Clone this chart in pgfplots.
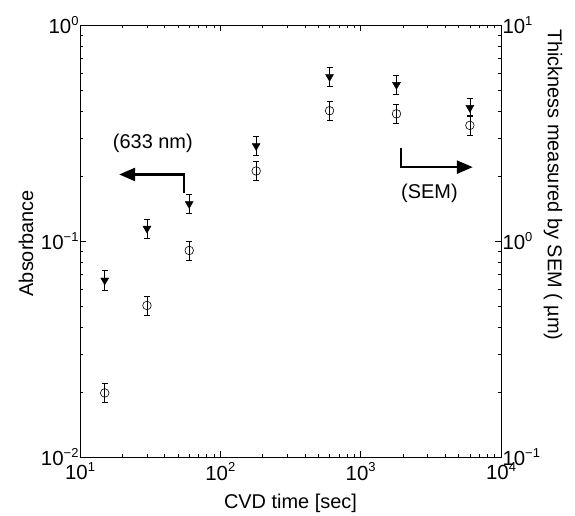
\documentclass[border=0pt]{standalone}
\usepackage{fontspec}
\setmainfont{Liberation Sans}
\usepackage{pgfplots}
\pgfplotsset{compat=1.18}
\usetikzlibrary{arrows.meta}

% 10 with a raised exponent, all in the text font
\newcommand{\ee}[1]{\fontsize{20.5}{22}\selectfont 10\raisebox{8.5bp}{\fontsize{13}{14}\selectfont #1}}

\begin{document}
\begin{tikzpicture}

\begin{axis}[name=ax,
  width=421bp, height=432bp, scale only axis,
  xmode=log, ymode=log, xmin=10, xmax=10000,
  ymin=0.01, ymax=1,
  tick style={line width=0.6bp, black},
  major tick length=6bp, minor tick length=3.5bp,
  axis line style={line width=0.8bp},
  xticklabel style={yshift=-2bp},
  yticklabel style={xshift=2bp},
  ytick={0.01,0.1,1}, yticklabels={\ee{−2},\ee{−1},\ee{0}},
  xtick={10,100,1000,10000}, xticklabels={\ee{1},\ee{2},\ee{3},\ee{4}},
  ytick pos=left, xtick pos=both,
  xlabel={CVD time [sec]}, ylabel={Absorbance},
  xlabel style={font=\fontsize{20}{24}\selectfont, at={(axis description cs:0.5,-0.1065)}, anchor=center},
  ylabel style={font=\fontsize{20}{24}\selectfont, at={(axis description cs:-0.128,0.495)}, anchor=center},
]

% absorbance at 633 nm
\addplot [only marks, mark=triangle*, mark size=4.6bp,
  mark options={rotate=180, fill=black, draw=black},
  error bars/.cd, y dir=both, y explicit,
  error bar style={line width=0.6bp, black},
  error mark options={line width=0.6bp, black, mark size=3bp, rotate=90}]
coordinates {
(15,   0.0658) += (0,0.0071) -= (0,0.0065)
(30,   0.1143) += (0,0.0121) -= (0,0.0111)
(60,   0.1486) += (0,0.0159) -= (0,0.0143)
(180,  0.276)  += (0,0.029)  -= (0,0.026)
(600,  0.576)  += (0,0.061)  -= (0,0.054)
(1800, 0.529)  += (0,0.056)  -= (0,0.051)
(6000, 0.414)  += (0,0.042)  -= (0,0.038)
};

\draw [line width=2.5bp, -{Triangle[length=16bp,width=13bp]}]
  (rel axis cs:0.247,0.611) -- (rel axis cs:0.247,0.654) -- (rel axis cs:0.093,0.654);
\node [font=\fontsize{20}{24}\selectfont] at (rel axis cs:0.173,0.727) {(633 nm)};

\draw [line width=2.5bp, -{Triangle[length=16bp,width=13bp]}]
  (rel axis cs:0.762,0.716) -- (rel axis cs:0.762,0.671) -- (rel axis cs:0.933,0.671);
\node [font=\fontsize{20}{24}\selectfont] at (rel axis cs:0.830,0.610) {(SEM)};
\end{axis}

\begin{axis}[
  width=421bp, height=432bp, scale only axis,
  xmode=log, ymode=log, xmin=10, xmax=10000,
  ymin=0.1, ymax=10,
  axis y line*=right, axis x line=none,
  tick style={line width=0.6bp, black},
  major tick length=6bp, minor tick length=3.5bp,
  axis line style={line width=0.8bp},
  yticklabel style={xshift=-2bp},
  ytick={0.1,1,10}, yticklabels={\ee{−1},\ee{0},\ee{1}},
  ylabel={Thickness measured by SEM ( µm)},
  ylabel style={font=\fontsize{20}{24}\selectfont, at={(axis description cs:1.1235,0.63)}, anchor=center, rotate=180},
]

% thickness by SEM
\addplot [only marks, mark=o, mark size=4.3bp,
  mark options={draw=black, line width=0.6bp},
  error bars/.cd, y dir=both, y explicit,
  error bar style={line width=0.6bp, black},
  error mark options={line width=0.6bp, black, mark size=3bp, rotate=90}]
coordinates {
(15,   0.198) += (0,0.021) -= (0,0.019)
(30,   0.503) += (0,0.053) -= (0,0.049)
(60,   0.904) += (0,0.096) -= (0,0.087)
(180,  2.11)  += (0,0.22)  -= (0,0.19)
(600,  4.01)  += (0,0.44)  -= (0,0.39)
(1800, 3.88)  += (0,0.42)  -= (0,0.37)
(6000, 3.43)  += (0,0.37)  -= (0,0.33)
};
\end{axis}

\pgfresetboundingbox
\path [use as bounding box] ([shift={(-80bp,-59bp)}]ax.south west)
  rectangle ([shift={(495bp,457bp)}]ax.south west);
\end{tikzpicture}
\end{document}
